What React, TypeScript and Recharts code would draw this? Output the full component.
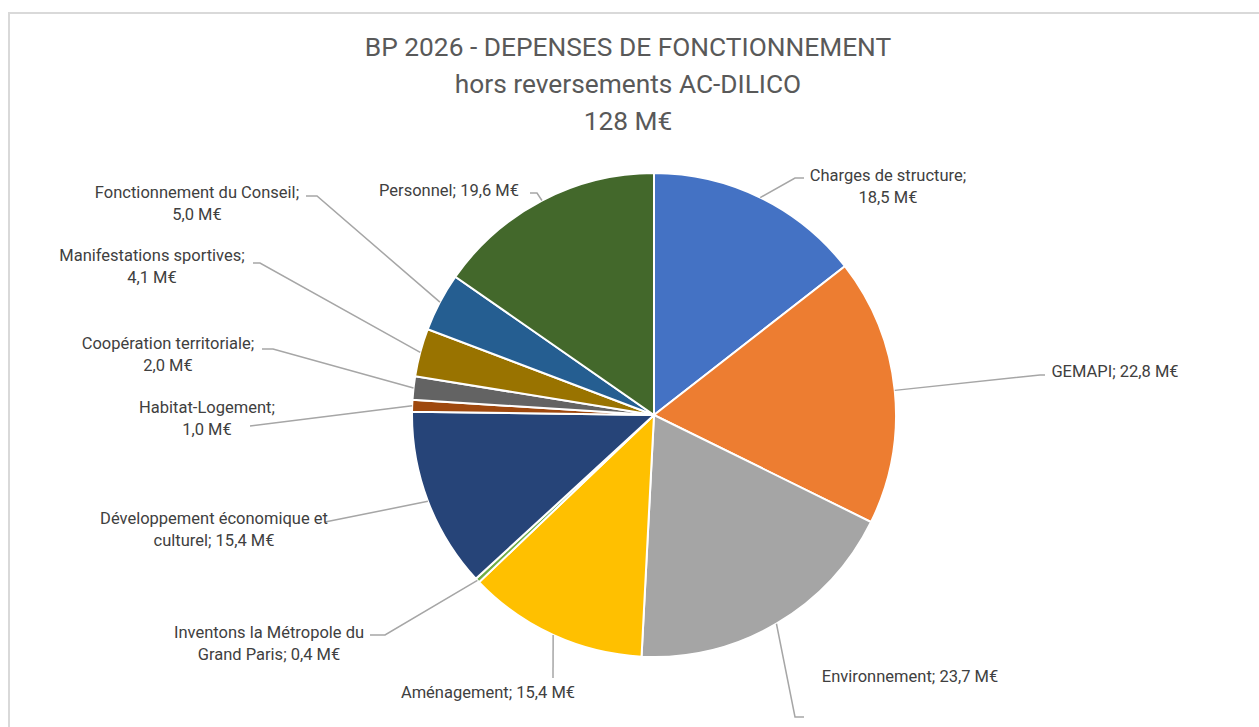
import { PieChart, Pie, Cell } from 'recharts';

const categories = [
  'Charges de structure',
  'GEMAPI',
  'Environnement',
  'Aménagement',
  'Inventons la Métropole du Grand Paris',
  'Développement économique et culturel',
  'Habitat-Logement',
  'Coopération territoriale',
  'Manifestations sportives',
  'Fonctionnement du Conseil',
  'Personnel',
];

const amounts = [18.5, 22.8, 23.7, 15.4, 0.4, 15.4, 1.0, 2.0, 4.1, 5.0, 19.6];

const titleLines = ['BP 2026 - DEPENSES DE FONCTIONNEMENT', 'hors reversements AC-DILICO', '128 M€'];

const COLORS = [
  '#4472C4', '#ED7D31', '#A5A5A5', '#FFC000', '#70AD47', '#264478',
  '#9E480E', '#636363', '#997300', '#255E91', '#43682B',
];

// label placement, relative to the pie centre (Excel positions were dragged by hand)
// split = number of words kept on the first line (0 = one line)
const labelLayout = [
  { tx: 234, ty: -240, elbow: [141, -237], end: [150, -237], split: 3 },
  { tx: 461, ty: -44, elbow: [386, -40], end: [391, -40], split: 0 },
  { tx: 256, ty: 261, elbow: [141, 302], end: [150, 302], split: 0 },
  { tx: -166, ty: 277, elbow: [-101, 263], end: [-101, 263], split: 0 },
  { tx: -385, ty: 217, elbow: [-269, 220], end: [-284, 220], split: 4 },
  { tx: -440, ty: 103, elbow: [-329, 107], end: [-329, 107], split: 3 },
  { tx: -447, ty: -8, elbow: [-404, 11], end: [-404, 11], split: 1 },
  { tx: -486, ty: -72, elbow: [-381, -66], end: [-392, -66], split: 2 },
  { tx: -502, ty: -160, elbow: [-394, -152], end: [-401, -152], split: 2 },
  { tx: -457, ty: -223, elbow: [-337, -219], end: [-348, -219], split: 3 },
  { tx: -205, ty: -225, elbow: [-117, -222], end: [-124, -222], split: 0 },
];

const data = categories.map((name, i) => ({ name, value: amounts[i] }));

const RAD = Math.PI / 180;
const FONT = 'Roboto, "Open Sans", sans-serif';

function fmt(v: number) {
  return v.toFixed(1).replace('.', ',') + ' M€';
}

function renderLabel(props: any) {
  const { cx, cy, midAngle, outerRadius, index } = props;
  const lay = labelLayout[index];
  const sx = cx + outerRadius * Math.cos(-midAngle * RAD);
  const sy = cy + outerRadius * Math.sin(-midAngle * RAD);
  const words = `${data[index].name}; ${fmt(data[index].value)}`.split(' ');
  const lines = lay.split > 0 ? [words.slice(0, lay.split).join(' '), words.slice(lay.split).join(' ')] : [words.join(' ')];
  const pts = `${sx},${sy} ${cx + lay.elbow[0]},${cy + lay.elbow[1]} ${cx + lay.end[0]},${cy + lay.end[1]}`;
  return (
    <g key={`lbl-${index}`}>
      <polyline points={pts} fill="none" stroke="#A6A6A6" strokeWidth={1.5} />
      <text x={cx + lay.tx} y={cy + lay.ty + 6} textAnchor="middle" fill="#404040" fontSize={16.5} fontFamily={FONT}>
        {lines.map((l, k) => (
          <tspan key={k} x={cx + lay.tx} dy={k === 0 ? 0 : 22}>{l}</tspan>
        ))}
      </text>
    </g>
  );
}

export default function App() {
  return (
    <div style={{ position: 'fixed', left: 0, top: 0, width: 1259, height: 727, overflow: 'hidden', background: '#fff' }}>
      <div style={{ position: 'absolute', left: 8, top: 12, width: 1400, height: 900, border: '2px solid #D9D9D9' }} />
      {titleLines.map((t, i) => (
        <div
          key={t}
          style={{
            position: 'absolute', left: 0, width: 1256, top: 30 + i * 37, textAlign: 'center',
            fontFamily: FONT, fontSize: 26.3, color: '#595959', lineHeight: '34px', whiteSpace: 'nowrap',
          }}
        >
          {t}
        </div>
      ))}
      <div style={{ position: 'absolute', left: 0, top: 0 }}>
        <PieChart width={1259} height={727} margin={{ top: 0, right: 0, bottom: 0, left: 0 }}>
          <Pie
            data={data}
            dataKey="value"
            cx={654}
            cy={415}
            outerRadius={242}
            startAngle={90}
            endAngle={-270}
            stroke="#FFFFFF"
            strokeWidth={2}
            label={renderLabel}
            labelLine={false}
            isAnimationActive={false}
          >
            {data.map((_, i) => (
              <Cell key={`cell-${i}`} fill={COLORS[i]} />
            ))}
          </Pie>
        </PieChart>
      </div>
    </div>
  );
}
